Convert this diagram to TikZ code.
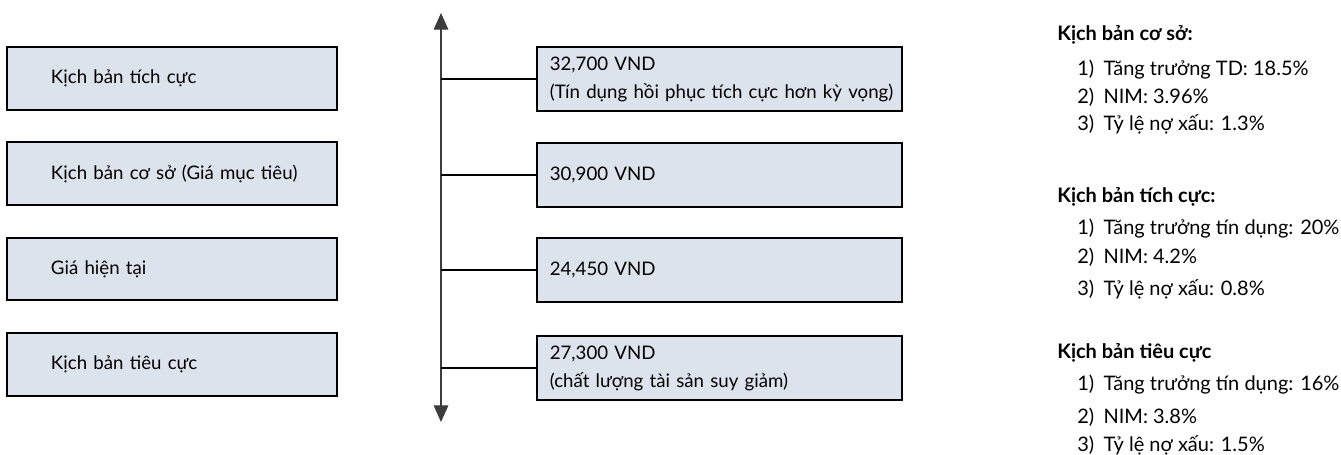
\documentclass[tikz,border=0pt]{standalone}
\usepackage{fontspec}
\setmainfont{Lato}
\usetikzlibrary{arrows.meta}
\definecolor{boxfill}{RGB}{221,227,237}
\definecolor{axisgray}{RGB}{60,60,60}
\tikzset{
  casebox/.style={draw=black, line width=1.5pt, fill=boxfill, minimum width=247.5pt, minimum height=47pt,
    inner xsep=0pt, text width=247.5pt, align=left, execute at begin node={\leftskip=33pt},
    font=\fontsize{14}{21}\selectfont},
  pricebox/.style={draw=black, line width=1.5pt, fill=boxfill, minimum width=274pt, minimum height=48pt,
    inner xsep=0pt, text width=274pt, align=left, execute at begin node={\leftskip=9.75pt},
    font=\fontsize{14}{21}\selectfont},
  link/.style={line width=1.5pt},
  axis/.style={line width=0.8pt, draw=axisgray, {Triangle[width=11pt,length=12.5pt]}-{Triangle[width=11pt,length=12.5pt]}},
  note/.style={anchor=west, inner sep=0pt, font=\fontsize{15}{18}\selectfont},
  notehead/.style={note, font=\fontsize{15}{18}\selectfont\bfseries}
}
\begin{document}
\begin{tikzpicture}[x=0.75pt,y=0.75pt,yscale=-1,xscale=1]
\useasboundingbox (0,0) rectangle (1341,454);

%Left boxes
\node [casebox] (pos) at (172,78.5) {Kịch bản tích cực};
\node [casebox] (base) at (172,173.5) {Kịch bản cơ sở (Giá mục tiêu)};
\node [casebox] (now) at (172,269) {Giá hiện tại};
\node [casebox] (neg) at (172,364.5) {Kịch bản tiêu cực};

%Axis
\coordinate (axtop) at (441,13);
\coordinate (axbot) at (441,422);
\draw [axis] (axbot) -- (axtop);

%Price boxes
\node [pricebox] (ppos) at (719.5,79) {32,700 VND\\(Tín dụng hồi phục tích cực hơn kỳ vọng)};
\node [pricebox] (pbase) at (719.5,174.5) {30,900 VND};
\node [pricebox] (pnow) at (719.5,270) {24,450 VND};
\node [pricebox] (pneg) at (719.5,368) {27,300 VND\\(chất lượng tài sản suy giảm)};

%Links from the axis
\coordinate (apos) at (441,79);
\coordinate (abase) at (441,174.5);
\coordinate (anow) at (441,270);
\coordinate (aneg) at (441,368);
\draw [link] (apos) -- (ppos.west);
\draw [link] (abase) -- (pbase.west);
\draw [link] (anow) -- (pnow.west);
\draw [link] (aneg) -- (pneg.west);

%Notes
\node [notehead] (h1) at (1057,35) {Kịch bản cơ sở:};
\node [note] (h1a) at (1077,70) {1)\hspace{7pt}Tăng trưởng TD: 18.5\%};
\node [note] (h1b) at (1077,97) {2)\hspace{7pt}NIM: 3.96\%};
\node [note] (h1c) at (1077,124) {3)\hspace{7pt}Tỷ lệ nợ xấu: 1.3\%};

\node [notehead] (h2) at (1057,197) {Kịch bản tích cực:};
\node [note] (h2a) at (1077,229) {1)\hspace{7pt}Tăng trưởng tín dụng: 20\%};
\node [note] (h2b) at (1077,257) {2)\hspace{7pt}NIM: 4.2\%};
\node [note] (h2c) at (1077,289) {3)\hspace{7pt}Tỷ lệ nợ xấu: 0.8\%};

\node [notehead] (h3) at (1057,353) {Kịch bản tiêu cực};
\node [note] (h3a) at (1077,385) {1)\hspace{7pt}Tăng trưởng tín dụng: 16\%};
\node [note] (h3b) at (1077,417) {2)\hspace{7pt}NIM: 3.8\%};
\node [note] (h3c) at (1077,445) {3)\hspace{7pt}Tỷ lệ nợ xấu: 1.5\%};

\end{tikzpicture}
\end{document}
